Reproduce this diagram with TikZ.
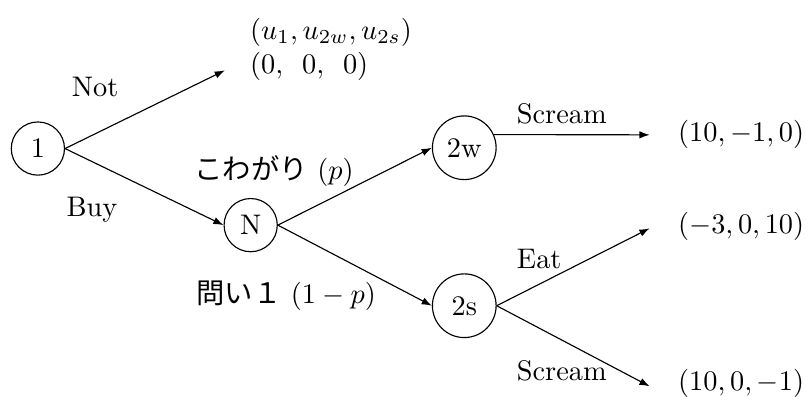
\documentclass[tikz,border=0pt]{standalone}
\usepackage{fontspec}
\usepackage{tikz}
\usetikzlibrary{arrows.meta}
\newfontfamily\jpfont{Noto Sans CJK JP}
\tikzset{
  nd_pl/.style={circle,draw,minimum size=0.66cm,inner sep=1pt},
  nd_plw/.style={circle,draw,minimum size=0.79cm,inner sep=1pt},
  nd_pay/.style={anchor=west,align=left},
  lbl/.style={inner sep=1pt},
  arr/.style={-{Latex[length=3.6pt,width=2.6pt]}},
}

\begin{document}
\begin{tikzpicture}[x=1cm,y=1cm]
\useasboundingbox (0,0) rectangle (10,4.913);
% players
\node[nd_pl]  at (0.47,3.07)(P1){1};
\node[nd_pl]  at (3.11,2.12)(NN){N};
\node[nd_plw] at (5.76,3.08)(P2w){2w};
\node[nd_plw] at (5.76,1.12)(P2s){2s};
% arrow ends
\coordinate (tNot) at (2.79,4.04);
\coordinate (tWS)  at (8.06,3.24);
\coordinate (tSE)  at (8.06,2.08);
\coordinate (tSS)  at (8.06,0.12);
% payoffs
\node[nd_pay] at (2.98,4.30)(pNot){$(u_1,u_{2w},u_{2s})$\\$(0,\ \,0,\ \,0)$};
\node[nd_pay] at (8.29,3.25)(pWS){$(10,-1,0)$};
\node[nd_pay] at (8.29,2.10)(pSE){$(-3,0,10)$};
\node[nd_pay] at (8.29,0.16)(pSS){$(10,0,-1)$};
% labels
\node[lbl] at (1.18,3.83)(lNot){Not};
\node[lbl] at (1.14,2.31)(lBuy){Buy};
\node[lbl] at (3.40,2.79)(lW){{\jpfont こわがり} $(p)$};
\node[lbl] at (3.55,1.24)(lS){{\jpfont 問い１} $(1-p)$};
\node[lbl] at (6.97,3.50)(lWS){Scream};
\node[lbl] at (6.69,1.70)(lSE){Eat};
\node[lbl] at (6.97,0.31)(lSS){Scream};
% arrows
\draw[arr](P1.east)--(tNot);
\draw[arr](P1.east)--(NN.west);
\draw[arr](NN.east)--(P2w.west);
\draw[arr](NN.east)--(P2s.west);
\draw[arr](P2w.24)--(tWS);
\draw[arr](P2s.east)--(tSE);
\draw[arr](P2s.east)--(tSS);
\end{tikzpicture}
\end{document}
